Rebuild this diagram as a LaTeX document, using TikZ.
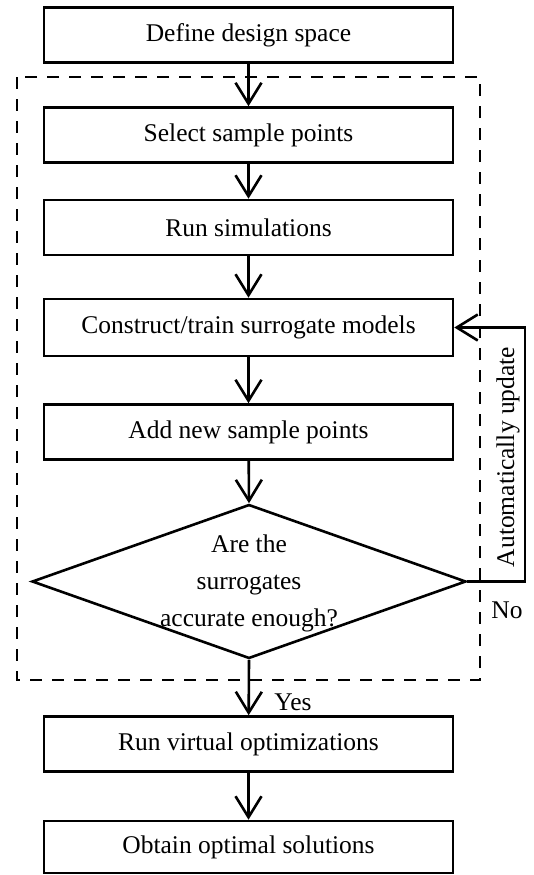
\documentclass[tikz,border=0pt]{standalone}
\usepackage{fontspec}
\setmainfont{Liberation Serif}
\usetikzlibrary{arrows.meta,shapes.geometric}
\begin{document}
\begin{tikzpicture}[x=1pt,y=-1pt,
  every node/.style={font=\fontsize{25.5}{37}\selectfont},
  stepbox/.style={draw, line width=2.6pt, minimum width=409pt, minimum height=55pt, inner sep=0pt},
  decbox/.style={draw, diamond, line width=2.6pt, minimum width=434pt, minimum height=154pt, inner sep=0pt},
  flow/.style={line width=2.6pt, -{Straight Barb[length=21pt,width=26pt,line width=2.6pt]}},
  loopbox/.style={draw, dash pattern=on 12pt off 10pt, line width=2.6pt}]
\useasboundingbox (0,0) rectangle (534,875);
\node[stepbox] (define) at (248.5,35) {Define design space};
\node[stepbox] (select) at (248.5,135) {Select sample points};
\node[stepbox] (runsim) at (248.5,227.5) {Run simulations};
\node[stepbox, minimum height=57pt] (construct) at (248.5,327.5) {Construct/train surrogate models};
\node[stepbox] (addnew) at (248.5,432) {Add new sample points};
\node[decbox] (dec) at (249,581.5) {};
\node[align=center, inner sep=0pt] (dectext) at (249,583) {Are the\\surrogates\\accurate enough?};
\node[stepbox] (runvirt) at (248.5,744) {Run virtual optimizations};
\node[stepbox, minimum height=52pt] (obtain) at (248.5,847) {Obtain optimal solutions};
\draw[loopbox] (17,77) rectangle (480,680);
\draw[flow] (define) -- (select);
\draw[flow] (select) -- (runsim);
\draw[flow] (runsim) -- (construct);
\draw[flow] (construct) -- (addnew);
\draw[flow] (addnew) -- (dec.north);
\draw[flow] (dec.south) -- (runvirt);
\draw[flow] (runvirt) -- (obtain);
\coordinate (corner) at (525,581.5);
\draw[flow] (dec.east) -- (corner) |- (construct.east);
\node[rotate=90] (auto) at (508,457) {Automatically update};
\node (no) at (507,610) {No};
\node (yes) at (293,702) {Yes};
\end{tikzpicture}
\end{document}
